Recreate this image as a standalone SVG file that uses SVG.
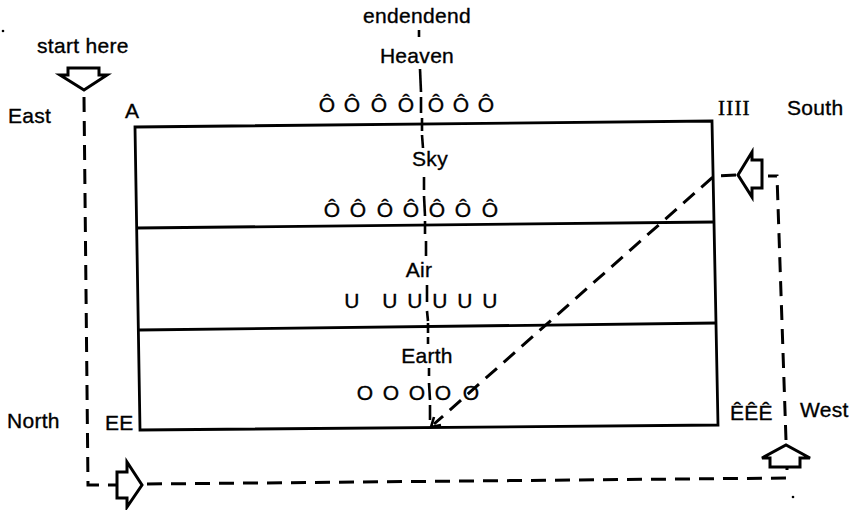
<svg xmlns="http://www.w3.org/2000/svg" width="850" height="510" viewBox="0 0 850 510">
  <style>
    .lbl { font-family: "Liberation Sans", Arial, sans-serif; font-size: 21px; letter-spacing: 0.3px; fill: #000; stroke: #000; stroke-width: 0.35; }
    .mid { text-anchor: middle; }
    .serif { font-family: "Liberation Serif", "Times New Roman", serif; font-size: 21px; letter-spacing: 1.2px; fill: #000; stroke: #000; stroke-width: 0.4; }
    .frame { fill: none; stroke: #000; stroke-width: 2.8; stroke-linejoin: miter; }
    .dash { fill: none; stroke: #000; stroke-width: 3; stroke-dasharray: 15 9; }
    .bar { stroke: #000; stroke-width: 2.6; fill: none; }
    .blk { fill: #fff; stroke: #000; stroke-width: 3; stroke-linejoin: miter; }
  </style>
  <rect width="850" height="510" fill="#fff"/>

  <!-- layered box: Heaven / Sky / Air / Earth -->
  <g id="box">
    <polygon class="frame" points="135,127 712,121 718,425 140,430"/>
    <line class="frame" x1="137" y1="228" x2="715" y2="222"/>
    <line class="frame" x1="139" y1="330" x2="717" y2="323"/>
  </g>

  <!-- corner and compass labels -->
  <g id="labels">
    <text class="lbl" x="37" y="53">start here</text>
    <text class="lbl" x="8" y="123">East</text>
    <text class="lbl" x="125" y="118">A</text>
    <text class="serif" x="718" y="115">IIII</text>
    <text class="lbl" x="787" y="115">South</text>
    <text class="lbl" x="7" y="428">North</text>
    <text class="lbl" x="105" y="430">EE</text>
    <text class="lbl" x="730" y="420">ÊÊÊ</text>
    <text class="lbl" x="800" y="417">West</text>
  </g>

  <!-- layer names along the central axis -->
  <g id="axis-labels">
    <text class="lbl mid" x="417" y="23">endendend</text>
    <text class="lbl mid" x="417" y="63">Heaven</text>
    <text class="lbl mid" x="430" y="166">Sky</text>
    <text class="lbl mid" x="419" y="277">Air</text>
    <text class="lbl mid" x="427" y="363">Earth</text>
  </g>

  <!-- rows of letters in each layer -->
  <g id="row-heaven" class="lbl mid">
    <text x="327" y="112">Ô</text><text x="352" y="112">Ô</text><text x="379" y="112">Ô</text><text x="406" y="112">Ô</text>
    <text x="436" y="112">Ô</text><text x="461" y="112">Ô</text><text x="486" y="112">Ô</text>
  </g>
  <g id="row-sky" class="lbl mid">
    <text x="332" y="217">Ô</text><text x="358" y="217">Ô</text><text x="385" y="217">Ô</text><text x="411" y="217">Ô</text>
    <text x="437" y="217">Ô</text><text x="463" y="217">Ô</text><text x="490" y="217">Ô</text>
  </g>
  <g id="row-air" class="lbl mid">
    <text x="352" y="308">U</text><text x="390" y="308">U</text><text x="415" y="308">U</text>
    <text x="440" y="308">U</text><text x="465" y="308">U</text><text x="490" y="308">U</text>
  </g>
  <g id="row-earth" class="lbl mid">
    <text x="365" y="400">O</text><text x="391" y="400">O</text><text x="417" y="400">O</text>
    <text x="443" y="400">O</text><text x="471" y="400">O</text>
  </g>

  <!-- block arrows -->
  <g id="arrow-start">
    <polygon class="blk" points="68,68 99,68 99,75 107,75 84,90 60,75 68,75"/>
  </g>
  <g id="arrow-north">
    <polygon class="blk" points="117,472 127,472 127,462 142,485 127,507 127,498 117,498"/>
  </g>
  <g id="arrow-west">
    <polygon class="blk" points="770,467 770,458 762,458 786,445 810,458 800,458 800,467"/>
  </g>
  <g id="arrow-south">
    <polygon class="blk" points="762,160 752,160 752,152 738,175 752,197 752,188 762,188"/>
  </g>

  <!-- connectors -->
  <g id="connectors">
    <path class="dash" d="M84,97 L88,485 L116,485"/>
    <path class="dash" d="M147,484 L787,478 L787,468"/>
    <path class="dash" d="M786,440 L777,176 L768,176"/>
    <path class="dash" d="M736,175 L714,176 L434,424"/>
    <path class="bar" d="M441,425 L431,427 L434,417"/>
    <!-- central axis, broken by the layer names -->
    <g class="bar">
      <line x1="419" y1="30" x2="419" y2="37"/>
      <line x1="420" y1="69" x2="421" y2="92"/>
      <line x1="421" y1="97" x2="421" y2="113"/>
      <line x1="422" y1="118" x2="422" y2="131"/>
      <line x1="422" y1="135" x2="423" y2="148"/>
      <line x1="424" y1="177" x2="424" y2="190"/>
      <line x1="424" y1="196" x2="425" y2="216"/>
      <line x1="425" y1="221" x2="425" y2="234"/>
      <line x1="426" y1="241" x2="426" y2="256"/>
      <line x1="427" y1="285" x2="427" y2="302"/>
      <line x1="427" y1="311" x2="428" y2="321"/>
      <line x1="428" y1="323" x2="428" y2="333"/>
      <line x1="428" y1="337" x2="428" y2="344"/>
      <line x1="429" y1="368" x2="429" y2="376"/>
      <line x1="429" y1="383" x2="430" y2="400"/>
      <line x1="430" y1="405" x2="430" y2="420"/>
    </g>
  </g>

  <!-- stray marks -->
  <circle cx="3" cy="31" r="1.3" fill="#000"/>
  <circle cx="793" cy="497" r="1.3" fill="#000"/>
</svg>
